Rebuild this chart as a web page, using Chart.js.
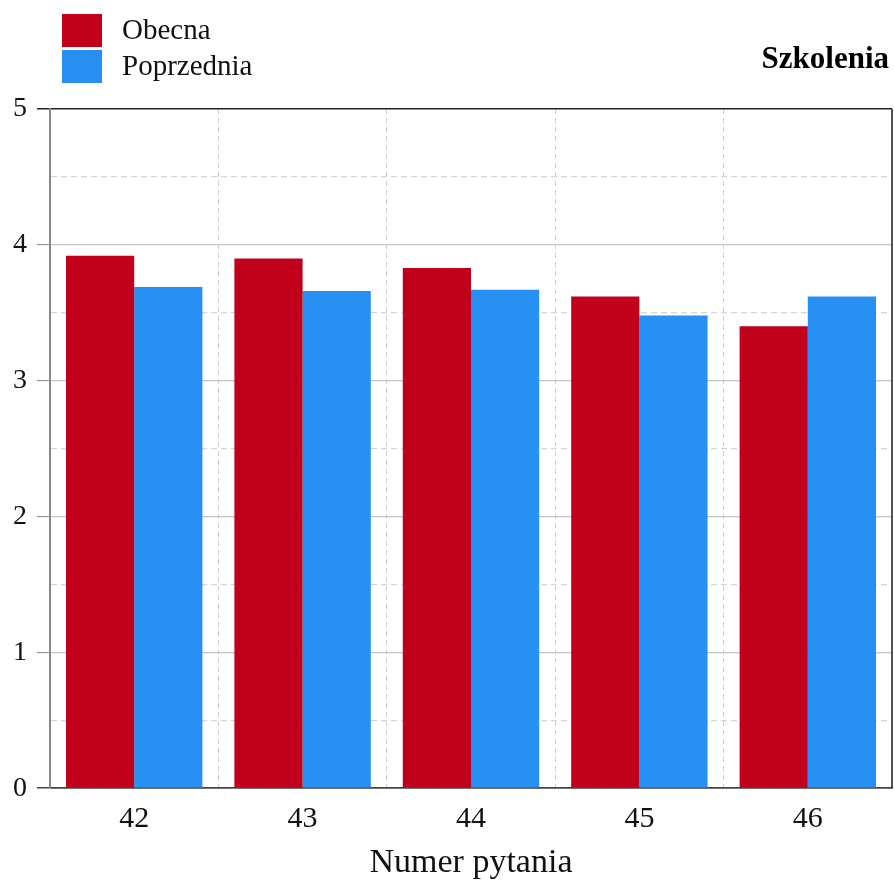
<!DOCTYPE html>
<html>
<head>
<meta charset="utf-8">
<script src="https://cdn.jsdelivr.net/npm/chart.js@4"></script>
<style>
html,body{margin:0;padding:0;background:#fff;}
#wrap{position:relative;width:894px;height:883px;}
</style>
</head>
<body>
<div id="wrap"><canvas id="c"></canvas></div>
<script>
const categories = ['42', '43', '44', '45', '46'];
const obecna = [3.92, 3.90, 3.83, 3.62, 3.40];
const poprzednia = [3.69, 3.66, 3.67, 3.48, 3.62];
const seriesNames = ['Obecna', 'Poprzednia'];
const seriesColors = ['#C1001C', '#288FF3'];
const chartTitle = 'Szkolenia';
const xTitle = 'Numer pytania';
const yMin = 0, yMax = 5, yStep = 0.5;

const SERIF = '"Liberation Serif", "DejaVu Serif", serif';

const overlay = {
  id: 'overlay',
  afterDraw(chart) {
    const ctx = chart.ctx;
    const a = chart.chartArea;
    ctx.save();
    // right border
    ctx.strokeStyle = '#222';
    ctx.lineWidth = 1.5;
    ctx.beginPath();
    ctx.moveTo(a.right, a.top);
    ctx.lineTo(a.right, a.bottom);
    ctx.stroke();
    // legend
    const ds = chart.data.datasets;
    ctx.font = '29px ' + SERIF;
    ctx.textBaseline = 'middle';
    ctx.textAlign = 'left';
    ds.forEach((d, i) => {
      const y = 14 + i * 36;
      ctx.fillStyle = d.backgroundColor;
      ctx.fillRect(62, y, 40, 33);
      ctx.fillStyle = '#111';
      ctx.fillText(d.label, 122, y + 17);
    });
    // title
    ctx.font = 'bold 31px ' + SERIF;
    ctx.textAlign = 'right';
    ctx.textBaseline = 'middle';
    ctx.fillStyle = '#000';
    ctx.fillText(chartTitle, 889, 60);
    ctx.restore();
  }
};

const isInt = v => Math.abs(v - Math.round(v)) < 1e-9;

new Chart(document.getElementById('c'), {
  type: 'bar',
  data: {
    labels: categories,
    datasets: [
      { label: seriesNames[0], data: obecna, backgroundColor: seriesColors[0] },
      { label: seriesNames[1], data: poprzednia, backgroundColor: seriesColors[1] }
    ]
  },
  options: {
    responsive: true,
    maintainAspectRatio: false,
    animation: false,
    datasets: { bar: { categoryPercentage: 0.81, barPercentage: 1.0 } },
    layout: { padding: { top: 109, right: 2, left: 3, bottom: 0 } },
    plugins: {
      legend: { display: false },
      title: { display: false },
      tooltip: { enabled: false }
    },
    scales: {
      x: {
        grid: {
          offset: true,
          drawTicks: false,
          color: '#cfcfcf',
          lineWidth: 1
        },
        border: {
          color: '#444',
          width: 1.5,
          dash: ctx => ctx.tick ? [5, 4] : []
        },
        ticks: {
          font: { family: SERIF, size: 30 },
          color: '#111',
          padding: 13
        },
        title: {
          display: true,
          text: xTitle,
          font: { family: SERIF, size: 34 },
          color: '#111',
          padding: { top: -8, bottom: 0 }
        }
      },
      y: {
        min: yMin,
        max: yMax,
        ticks: {
          stepSize: yStep,
          font: { family: SERIF, size: 28 },
          color: '#111',
          padding: 10,
          callback: v => isInt(v) ? String(v) : ''
        },
        grid: {
          color: ctx => {
            if (!ctx.tick) return '#ccc';
            const v = ctx.tick.value;
            if (v === yMax) return '#222';
            if (v === yMin) return '#444';
            return isInt(v) ? '#c4c4c4' : '#d6d6d6';
          },
          lineWidth: ctx => (ctx.tick && (ctx.tick.value === yMax || ctx.tick.value === yMin)) ? 1.5 : 1.2,
          tickColor: ctx => {
            if (!ctx.tick) return 'transparent';
            const v = ctx.tick.value;
            if (!isInt(v)) return 'rgba(0,0,0,0)';
            if (v === yMax) return '#222';
            if (v === yMin) return '#444';
            return '#999';
          },
          tickLength: 13
        },
        border: {
          color: '#888',
          width: 2,
          dash: ctx => (ctx.tick && !isInt(ctx.tick.value)) ? [6, 4] : []
        }
      }
    }
  },
  plugins: [overlay]
});
</script>
</body>
</html>
